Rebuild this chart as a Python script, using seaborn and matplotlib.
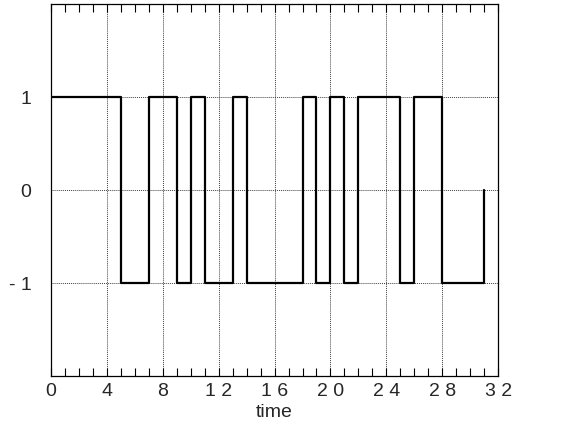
import seaborn as sns
import matplotlib.pyplot as plt
import pandas as pd
from matplotlib.ticker import MultipleLocator

## data: binary sequence sampled at integer times
time = list(range(32))
level = [1, 1, 1, 1, 1, -1, -1, 1, 1, -1, 1, -1, -1, 1, -1, -1,
         -1, -1, 1, -1, 1, -1, 1, 1, 1, -1, 1, 1, -1, -1, -1, 0]
xticks = list(range(0, 33, 4))
yticks = [-1, 0, 1]
ytick_labels = ["- 1", "0", "1"]

df = pd.DataFrame({"time": time, "level": level})

sns.set_style("ticks")
plt.rcParams["font.family"] = ["Liberation Sans", "DejaVu Sans"]

fig = plt.figure(figsize=(5.72, 4.26), dpi=100)
ax = fig.add_axes([0.089, 0.117, 0.782, 0.873])

sns.lineplot(data=df, x="time", y="level", drawstyle="steps-post",
             color="black", linewidth=1.6, estimator=None, sort=False, ax=ax)

ax.set_xlim(0, 32)
ax.set_ylim(-2, 2)
ax.set_xticks(xticks)
ax.set_xticklabels([" ".join(str(v)) for v in xticks], fontsize=14)
ax.xaxis.set_minor_locator(MultipleLocator(1))
ax.set_yticks(yticks)
ax.set_yticklabels(ytick_labels, fontsize=14)
ax.tick_params(axis="x", which="both", direction="in", top=True, length=6,
               width=0.8, pad=5, color="black")
ax.tick_params(axis="y", length=0, pad=14)
ax.grid(True, which="major", linestyle=(0, (1, 1)), color="0.25", linewidth=0.7)
for s in ax.spines.values():
    s.set_color("black")
    s.set_linewidth(0.9)
ax.set_xlabel("time", fontsize=14, labelpad=3)
ax.set_ylabel("")

fig.savefig("out.png", dpi=100)
plt.close(fig)
